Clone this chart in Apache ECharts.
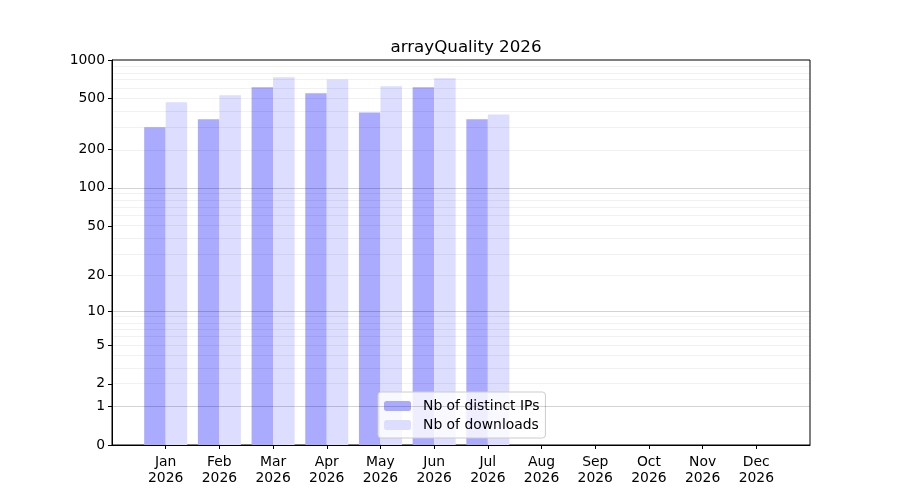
<!DOCTYPE html>
<html>
<head>
<meta charset="utf-8">
<script src="https://cdn.jsdelivr.net/npm/echarts@6/dist/echarts.min.js"></script>
<style>html,body{margin:0;padding:0;background:#fff}#c{width:900px;height:500px}</style>
</head>
<body>
<div id="c"></div>
<script>
const months = ['Jan', 'Feb', 'Mar', 'Apr', 'May', 'Jun', 'Jul', 'Aug', 'Sep', 'Oct', 'Nov', 'Dec'];
const year = '2026';
const distinctIPs = [299, 344, 612, 549, 390, 612, 344];
const downloads = [467, 530, 732, 706, 623, 719, 376];
const yTickValues = [0, 1, 2, 5, 10, 20, 50, 100, 200, 500, 1000];
const majorGrid = [1, 10, 100];
const minorGrid = [2, 3, 4, 5, 6, 7, 8, 9, 20, 30, 40, 50, 60, 70, 80, 90, 200, 300, 400, 500, 600, 700, 800, 900];
const yMaxRaw = 1000;

const tf = v => Math.log10(v + 1);
const inv = t => Math.round(Math.pow(10, t) - 1);

const cats = [''].concat(months.map(m => m + '\n' + year)).concat(['']);
function pad(arr) {
  const out = [null];
  for (let i = 0; i < months.length; i++) out.push(i < arr.length ? tf(arr[i]) : null);
  out.push(null);
  return out;
}
const FONT = 'DejaVu Sans';
const chart = echarts.init(document.getElementById('c'), null, {renderer: 'canvas'});
chart.setOption({
  animation: false,
  backgroundColor: '#fff',
  title: {
    text: 'arrayQuality 2026', left: 461, top: 34, textAlign: 'center',
    textStyle: {fontFamily: FONT, fontSize: 16.7, fontWeight: 'normal', color: '#000'}
  },
  grid: {left: 112, right: 90, top: 60, bottom: 55, show: true, borderColor: '#000', borderWidth: 1, backgroundColor: 'transparent'},
  legend: {
    orient: 'vertical', left: 378, top: 392,
    itemWidth: 27, itemHeight: 10, itemGap: 5,
    padding: [7, 6, 6, 6],
    backgroundColor: 'rgba(255,255,255,0.8)', borderColor: '#cccccc', borderWidth: 1, borderRadius: 3,
    textStyle: {fontFamily: FONT, fontSize: 13.9, color: '#000', padding: [0, 0, 0, 7]},
    data: ['Nb of distinct IPs', 'Nb of downloads']
  },
  xAxis: {
    type: 'category', data: cats, boundaryGap: false,
    axisLine: {lineStyle: {color: '#000', width: 1}},
    axisTick: {inside: false, length: 4, interval: (i) => i > 0 && i < cats.length - 1, lineStyle: {color: '#000'}},
    axisLabel: {interval: 0, fontFamily: FONT, fontSize: 13.9, color: '#000', lineHeight: 16, margin: 9},
    splitLine: {show: false}
  },
  yAxis: {
    type: 'value', min: 0, max: tf(yMaxRaw),
    axisLine: {show: true, lineStyle: {color: '#000', width: 1}},
    axisTick: {show: true, length: 4, lineStyle: {color: '#000'}, customValues: yTickValues.map(tf)},
    axisLabel: {fontFamily: FONT, fontSize: 13.9, color: '#000', margin: 7,
      customValues: yTickValues.map(tf), formatter: v => String(inv(v)),
      padding: [2, 0, 0, 0]},
    splitLine: {show: false}
  },
  series: [
    {
      name: 'Nb of distinct IPs', type: 'bar', data: pad(distinctIPs),
      barWidth: 21.5, barGap: '0%', itemStyle: {color: '#aaaaff'}, z: 2
    },
    {
      name: 'Nb of downloads', type: 'bar', data: pad(downloads),
      barWidth: 21.5, barGap: '0%', itemStyle: {color: '#ddddff'}, z: 2
    },
    {
      name: 'gridMinor', type: 'line', data: [], z: 5, silent: true,
      markLine: {
        silent: true, symbol: 'none', label: {show: false},
        lineStyle: {type: 'solid', color: 'rgba(0,0,0,0.07)', width: 0.8},
        data: minorGrid.map(v => ({yAxis: tf(v)}))
      }
    },
    {
      name: 'gridMajor', type: 'line', data: [], z: 6, silent: true,
      markLine: {
        silent: true, symbol: 'none', label: {show: false},
        lineStyle: {type: 'solid', color: 'rgba(0,0,0,0.22)', width: 0.8},
        data: majorGrid.map(v => ({yAxis: tf(v)}))
      }
    }
  ]
});
</script>
</body>
</html>
